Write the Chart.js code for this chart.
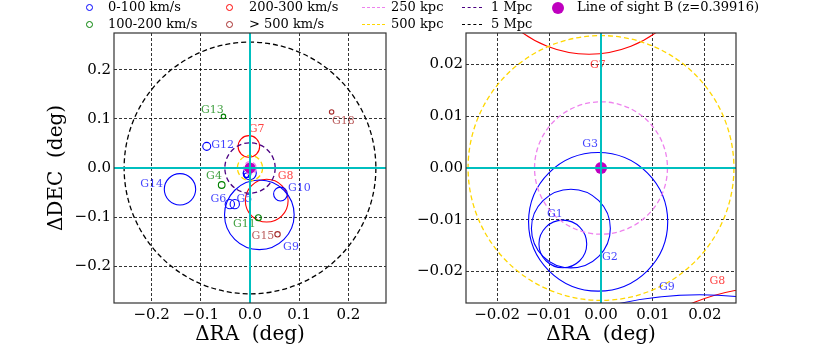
<!DOCTYPE html>
<html lang="en">
  <head>
    <meta charset="UTF-8" />
    <title>Groups around line of sight B</title>
    <script src="https://cdn.jsdelivr.net/npm/chart.js@4.4.0/dist/chart.umd.min.js"></script>
    <style>
      body {
        margin: 0;
        background: #fff;
        font-family: "DejaVu Serif", serif;
      }
      #wrap {
        position: relative;
        width: 830px;
        height: 351px;
        overflow: hidden;
      }
      canvas {
        position: absolute;
        top: 0;
      }
      #leftChart { left: 0; }
      #rightChart { left: 400px; }
      .lgText {
        position: absolute;
        font-size: 13px;
        line-height: 16px;
        color: #000;
        white-space: nowrap;
      }
      .lgMark {
        position: absolute;
        box-sizing: border-box;
        border-radius: 50%;
      }
      .lgLine {
        position: absolute;
        height: 0;
        border-top: 1.5px dashed;
      }
    </style>
  </head>
  <body>
    <div id="wrap">
      <canvas id="leftChart" width="415" height="351"></canvas>
      <canvas id="rightChart" width="430" height="351"></canvas>
    </div>
    <script>
      // galaxy groups: centre offsets (deg) and circle radius (deg)
      const groupNames = ["G1", "G2", "G3", "G4", "G5", "G6", "G7", "G8", "G9", "G10", "G11", "G12", "G13", "G14", "G15", "G18"];
      const groupRA = [-0.00735, -0.0058, -0.00055, -0.0576, -0.031, -0.041, -0.0023, 0.034, 0.019, 0.062, 0.017, -0.088, -0.054, -0.1424, 0.056, 0.166];
      const groupDEC = [-0.01468, -0.0117, -0.0104, -0.0346, -0.0735, -0.0735, 0.0439, -0.0664, -0.0953, -0.053, -0.101, 0.044, 0.105, -0.0434, -0.135, 0.114];
      const groupRadius = [0.0046, 0.0076, 0.0134, 0.0068, 0.0095, 0.0095, 0.0219, 0.0435, 0.0708, 0.014, 0.006, 0.0081, 0.0045, 0.0319, 0.0055, 0.0045];
      // velocity dispersion bin of each group (index into binLabels)
      const groupBin = [0, 0, 0, 1, 0, 0, 2, 2, 0, 0, 1, 0, 1, 0, 3, 3];
      const binLabels = ["0-100 km/s", "100-200 km/s", "200-300 km/s", "> 500 km/s"];

      // where each name sits, per panel (null = not drawn)
      const leftLabelRA = [null, null, null, -0.0732, -0.0115, -0.0644, 0.0136, 0.0725, 0.0834, 0.1003, -0.0115, -0.0556, -0.0766, -0.2, 0.0264, 0.1898];
      const leftLabelDEC = [null, null, null, -0.017, -0.0624, -0.0624, 0.08, -0.0163, -0.1607, -0.0407, -0.1132, 0.0461, 0.1173, -0.0319, -0.1383, 0.0956];
      const rightLabelRA = [-0.0089, 0.0017, -0.0021, null, null, null, -0.0006, 0.0224, 0.0127, null, null, null, null, null, null, null];
      const rightLabelDEC = [-0.0089, -0.0173, 0.0046, null, null, null, 0.0198, -0.0219, -0.023, null, null, null, null, null, null, null];

      // physical scale rings around the sight line (deg)
      const ringLabels = ["250 kpc", "500 kpc", "1 Mpc", "5 Mpc"];
      const ringRadius = [0.0128, 0.0256, 0.0512, 0.256];

      const sightLabel = "Line of sight B (z=0.39916)";
      const sightRA = [0];
      const sightDEC = [0];

      const leftTicks = [-0.2, -0.1, 0, 0.1, 0.2];
      const leftTickLabels = ["\u22120.2", "\u22120.1", "0.0", "0.1", "0.2"];
      const rightTicks = [-0.02, -0.01, 0, 0.01, 0.02];
      const rightTickLabels = ["\u22120.02", "\u22120.01", "0.00", "0.01", "0.02"];

      const binColors = ["#0000ff", "#008000", "#ff0000", "#a52a2a"];
      const binTextColors = ["rgba(0,0,255,0.75)", "rgba(0,128,0,0.75)", "rgba(255,0,0,0.75)", "rgba(165,42,42,0.75)"];
      const ringColors = ["#ee82ee", "#ffd700", "#4b0082", "#000000"];
      const sightColor = "#bf00bf";
      const cyan = "#00bfbf";
      const serif = "'DejaVu Serif', serif";

      function ringsPlugin(labelRA, labelDEC) {
        return {
          id: "rings",
          beforeDatasetsDraw(chart) {
            const { ctx, chartArea: a, scales } = chart;
            const x = scales.x, y = scales.y;
            ctx.save();
            ctx.beginPath();
            ctx.rect(a.left, a.top, a.right - a.left, a.bottom - a.top);
            ctx.clip();
            const ell = (ra, dec, r) => {
              const cx = x.getPixelForValue(ra);
              const cy = y.getPixelForValue(dec);
              const rx = Math.abs(x.getPixelForValue(ra + r) - cx);
              const ry = Math.abs(y.getPixelForValue(dec + r) - cy);
              ctx.beginPath();
              ctx.ellipse(cx, cy, rx, ry, 0, 0, 2 * Math.PI);
            };
            ctx.setLineDash([]);
            ctx.lineWidth = 1.1;
            for (let i = 0; i < groupNames.length; i++) {
              ell(groupRA[i], groupDEC[i], groupRadius[i]);
              ctx.strokeStyle = binColors[groupBin[i]];
              ctx.stroke();
            }
            ctx.setLineDash([5, 3]);
            ctx.lineWidth = 1.3;
            for (let i = 0; i < ringRadius.length; i++) {
              ell(0, 0, ringRadius[i]);
              ctx.strokeStyle = ringColors[i];
              ctx.stroke();
            }
            ctx.setLineDash([]);
            ctx.font = "11px " + serif;
            ctx.textAlign = "center";
            ctx.textBaseline = "middle";
            for (let i = 0; i < groupNames.length; i++) {
              if (labelRA[i] === null) continue;
              ctx.fillStyle = binTextColors[groupBin[i]];
              ctx.fillText(groupNames[i], x.getPixelForValue(labelRA[i]), y.getPixelForValue(labelDEC[i]));
            }
            ctx.restore();
          },
          afterDatasetsDraw(chart) {
            const { ctx, chartArea: a, scales } = chart;
            const x0 = scales.x.getPixelForValue(0);
            const y0 = scales.y.getPixelForValue(0);
            ctx.save();
            ctx.strokeStyle = cyan;
            ctx.lineWidth = 2;
            ctx.beginPath();
            ctx.moveTo(x0, a.top);
            ctx.lineTo(x0, a.bottom);
            ctx.moveTo(a.left, y0);
            ctx.lineTo(a.right, y0);
            ctx.stroke();
            ctx.strokeStyle = "#333";
            ctx.lineWidth = 1.2;
            ctx.strokeRect(a.left, a.top, a.right - a.left, a.bottom - a.top);
            ctx.restore();
          },
        };
      }

      function axis(lim, ticks, labels, extra) {
        return Object.assign(
          {
            type: "linear",
            min: -lim,
            max: lim,
            afterBuildTicks: (s) => {
              s.ticks = ticks.map((v) => ({ value: v }));
            },
            ticks: {
              color: "#000",
              font: { family: serif, size: 15 },
              callback: (v, i) => labels[i],
            },
            grid: { color: "#000", lineWidth: 0.8, drawTicks: false },
            border: { display: false, dash: [3, 2] },
          },
          extra
        );
      }

      function panel(id, opts) {
        return new Chart(document.getElementById(id), {
          type: "scatter",
          data: {
            datasets: [
              {
                label: sightLabel,
                data: sightRA.map((v, i) => ({ x: v, y: sightDEC[i] })),
                backgroundColor: sightColor,
                borderWidth: 0,
                pointRadius: opts.dot,
              },
            ],
          },
          options: {
            responsive: false,
            animation: false,
            layout: { padding: opts.padding },
            plugins: { legend: { display: false }, tooltip: { enabled: false } },
            scales: {
              x: axis(opts.xlim, opts.ticks, opts.tickLabels, {
                afterFit: (s) => { s.height = 48; },
                title: {
                  display: true,
                  text: "\u0394RA  (deg)",
                  color: "#000",
                  font: { family: serif, size: 20, lineHeight: 1.2 },
                  padding: { top: 0, bottom: 4 },
                },
              }),
              y: axis(opts.ylim, opts.ticks, opts.tickLabels, {
                afterFit: (s) => { s.width = opts.yWidth; },
                title: {
                  display: opts.yTitle,
                  text: "\u0394DEC  (deg)",
                  color: "#000",
                  font: { family: serif, size: 20, lineHeight: 1.2 },
                  padding: { top: 45, bottom: 0 },
                },
              }),
            },
          },
          plugins: [ringsPlugin(opts.labelRA, opts.labelDEC)],
        });
      }

      panel("leftChart", {
        xlim: 0.2766, ylim: 0.2746, ticks: leftTicks, tickLabels: leftTickLabels,
        padding: { top: 33, right: 29, left: 0, bottom: 0 }, yWidth: 114, yTitle: true,
        labelRA: leftLabelRA, labelDEC: leftLabelDEC, dot: 5.5,
      });
      panel("rightChart", {
        xlim: 0.026, ylim: 0.0261, ticks: rightTicks, tickLabels: rightTickLabels,
        padding: { top: 33, right: 94, left: 0, bottom: 0 }, yWidth: 66, yTitle: false,
        labelRA: rightLabelRA, labelDEC: rightLabelDEC, dot: 6,
      });

      // legend, filled column by column like the original figure
      const wrap = document.getElementById("wrap");
      const colMark = [89, 229, 362, 462, 558];
      const colText = [108, 249, 391, 491, 577];
      const rowY = [7, 24];
      const items = [];
      binLabels.forEach((t, i) => items.push({ kind: "ring", color: binColors[i], text: t }));
      ringLabels.forEach((t, i) => items.push({ kind: "dash", color: ringColors[i], text: t }));
      items.push({ kind: "dot", color: sightColor, text: sightLabel });
      items.forEach((it, k) => {
        const col = Math.floor(k / 2), row = k % 2;
        const cy = rowY[row];
        const m = document.createElement("div");
        if (it.kind === "ring") {
          m.className = "lgMark";
          Object.assign(m.style, { left: colMark[col] - 3.5 + "px", top: cy - 3.5 + "px", width: "7px", height: "7px", border: "1.3px solid " + it.color });
        } else if (it.kind === "dot") {
          m.className = "lgMark";
          Object.assign(m.style, { left: colMark[col] - 6 + "px", top: cy - 5 + "px", width: "12px", height: "12px", background: it.color });
        } else {
          m.className = "lgLine";
          Object.assign(m.style, { left: colMark[col] + "px", top: cy + "px", width: (col === 3 ? 20 : 23) + "px", borderTopColor: it.color });
        }
        wrap.appendChild(m);
        const t = document.createElement("div");
        t.className = "lgText";
        t.textContent = it.text;
        Object.assign(t.style, { left: colText[col] + "px", top: cy - 8 + "px" });
        wrap.appendChild(t);
      });
    </script>
  </body>
</html>
